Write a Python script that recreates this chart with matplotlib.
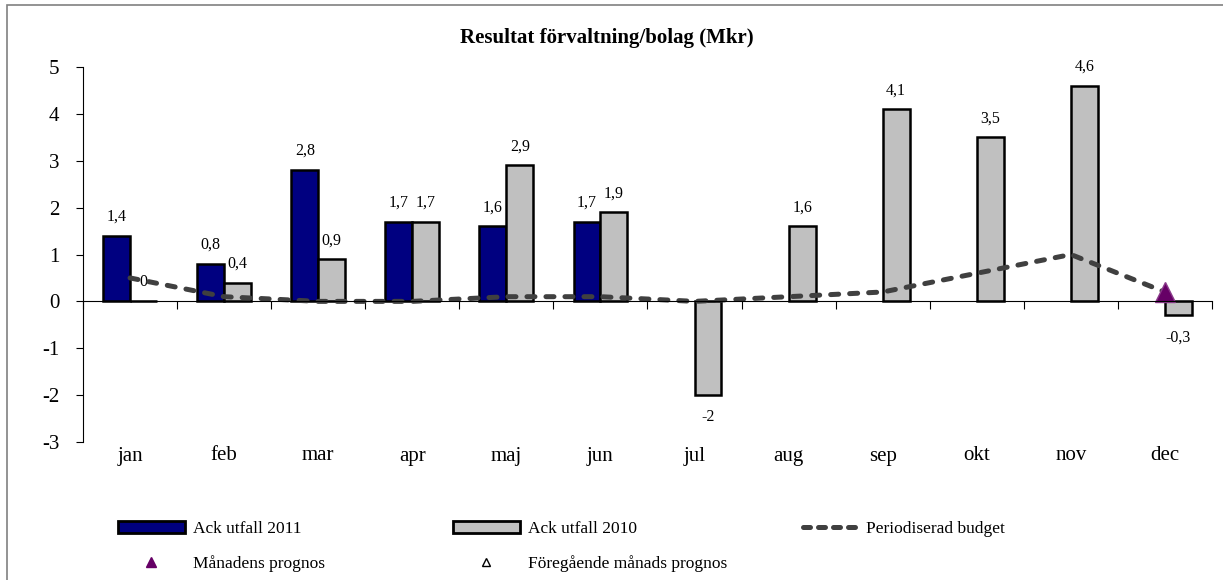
import numpy as np
import matplotlib.pyplot as plt
from matplotlib.lines import Line2D
from matplotlib.patches import Patch, Rectangle

plt.rcParams['font.family'] = ['Liberation Serif', 'DejaVu Serif']
plt.rcParams['axes.unicode_minus'] = False

months = ['jan', 'feb', 'mar', 'apr', 'maj', 'jun', 'jul', 'aug', 'sep', 'okt', 'nov', 'dec']
utfall_2011 = [1.4, 0.8, 2.8, 1.7, 1.6, 1.7, None, None, None, None, None, None]
utfall_2010 = [0, 0.4, 0.9, 1.7, 2.9, 1.9, -2, 1.6, 4.1, 3.5, 4.6, -0.3]
budget = [0.5, 0.1, 0.0, 0.0, 0.1, 0.1, 0.0, 0.1, 0.2, 0.6, 1.0, 0.2]
prognos = [None] * 11 + [0.2]

def fmt(v):
    return ('%g' % v).replace('.', ',')

fig = plt.figure(figsize=(12.23, 5.8), dpi=100)
ax = fig.add_axes([83 / 1223, 1 - 442 / 580, (1212 - 83) / 1223, (442 - 67) / 580])

x = np.arange(len(months))
w = 0.286
navy = '#000080'
grey = '#c0c0c0'
lab = dict(textcoords='offset pixels', ha='center', va='center', fontsize=11.5)

# only months that have a value get a bar
i11 = [i for i, v in enumerate(utfall_2011) if v is not None]
v11 = [utfall_2011[i] for i in i11]
ax.bar(x[i11] - w / 2, v11, w, color=navy, edgecolor='black', linewidth=1.8, zorder=2)
ax.bar(x + w / 2, utfall_2010, w, color=grey, edgecolor='black', linewidth=1.8, zorder=2)

# data labels: above positive bars, below negative ones
for xi, v in zip(x[i11] - w / 2, v11):
    ax.annotate(fmt(v), (xi, v), xytext=(0, 19), **lab)
for xi, v in zip(x + w / 2, utfall_2010):
    off = -22 if v < 0 else 19
    ax.annotate(fmt(v), (xi, v), xytext=(0, off), zorder=1, **lab)

ax.plot(x, budget, color='#404040', linewidth=3.6, dashes=(1.6, 2.2),
        dash_capstyle='round', zorder=3)
prog = np.array([np.nan if v is None else v for v in prognos])
ax.plot(x, prog, linestyle='none', marker='^', markersize=14,
        markerfacecolor='#660066', markeredgecolor='#8a3a8a', zorder=4)

ax.set_xlim(-0.5, 11.5)
ax.set_ylim(-3, 5)
ax.set_yticks(range(-3, 6))
ax.tick_params(axis='y', length=5, pad=12, labelsize=15, direction='out')
ax.set_xticks(np.arange(-0.5, 12, 1))
ax.set_xticklabels([])
ax.tick_params(axis='x', length=6, direction='out')
for sp in ['top', 'right']:
    ax.spines[sp].set_visible(False)
ax.spines['bottom'].set_position(('data', 0))
ax.spines['bottom'].set_zorder(5)
for m, xi in zip(months, x):
    ax.text(xi, -0.012, m, transform=ax.get_xaxis_transform(), ha='center', va='top', fontsize=15)

fig.text(607 / 1223, 1 - 38 / 580, 'Resultat förvaltning/bolag (Mkr)', ha='center', va='center',
         fontsize=15, fontweight='bold')

# legend in three columns
lkw = dict(frameon=False, borderpad=0, fontsize=12.5, loc='upper left', labelspacing=1.05,
           borderaxespad=0)
h1 = [Patch(facecolor=navy, edgecolor='black', linewidth=2),
      Line2D([], [], linestyle='none', marker='^', markersize=7, color='#660066')]
h2 = [Patch(facecolor=grey, edgecolor='black', linewidth=2),
      Line2D([], [], linestyle='none', marker='^', markersize=6, markerfacecolor='white',
             markeredgecolor='black', markeredgewidth=1)]
h3 = [Line2D([], [], color='#404040', linewidth=3.6, dashes=(1.4, 1.6), dash_capstyle='round')]
top = 1 - 521 / 580
fig.legend(h1, ['Ack utfall 2011', 'Månadens prognos'], bbox_to_anchor=(118 / 1223, top),
           handlelength=3.85, handletextpad=0.45, **lkw)
fig.legend(h2, ['Ack utfall 2010', 'Föregående månads prognos'], bbox_to_anchor=(453 / 1223, top),
           handlelength=3.85, handletextpad=0.45, **lkw)
fig.legend(h3, ['Periodiserad budget'], bbox_to_anchor=(803 / 1223, top),
           handlelength=3.4, handletextpad=0.25, **lkw)

fig.patches.append(Rectangle((7 / 1223, -0.1), 1.2, 1 - 5 / 580 + 0.1, transform=fig.transFigure,
                             fill=False, edgecolor='#808080', linewidth=1.2))

fig.savefig('out.png', dpi=100)
